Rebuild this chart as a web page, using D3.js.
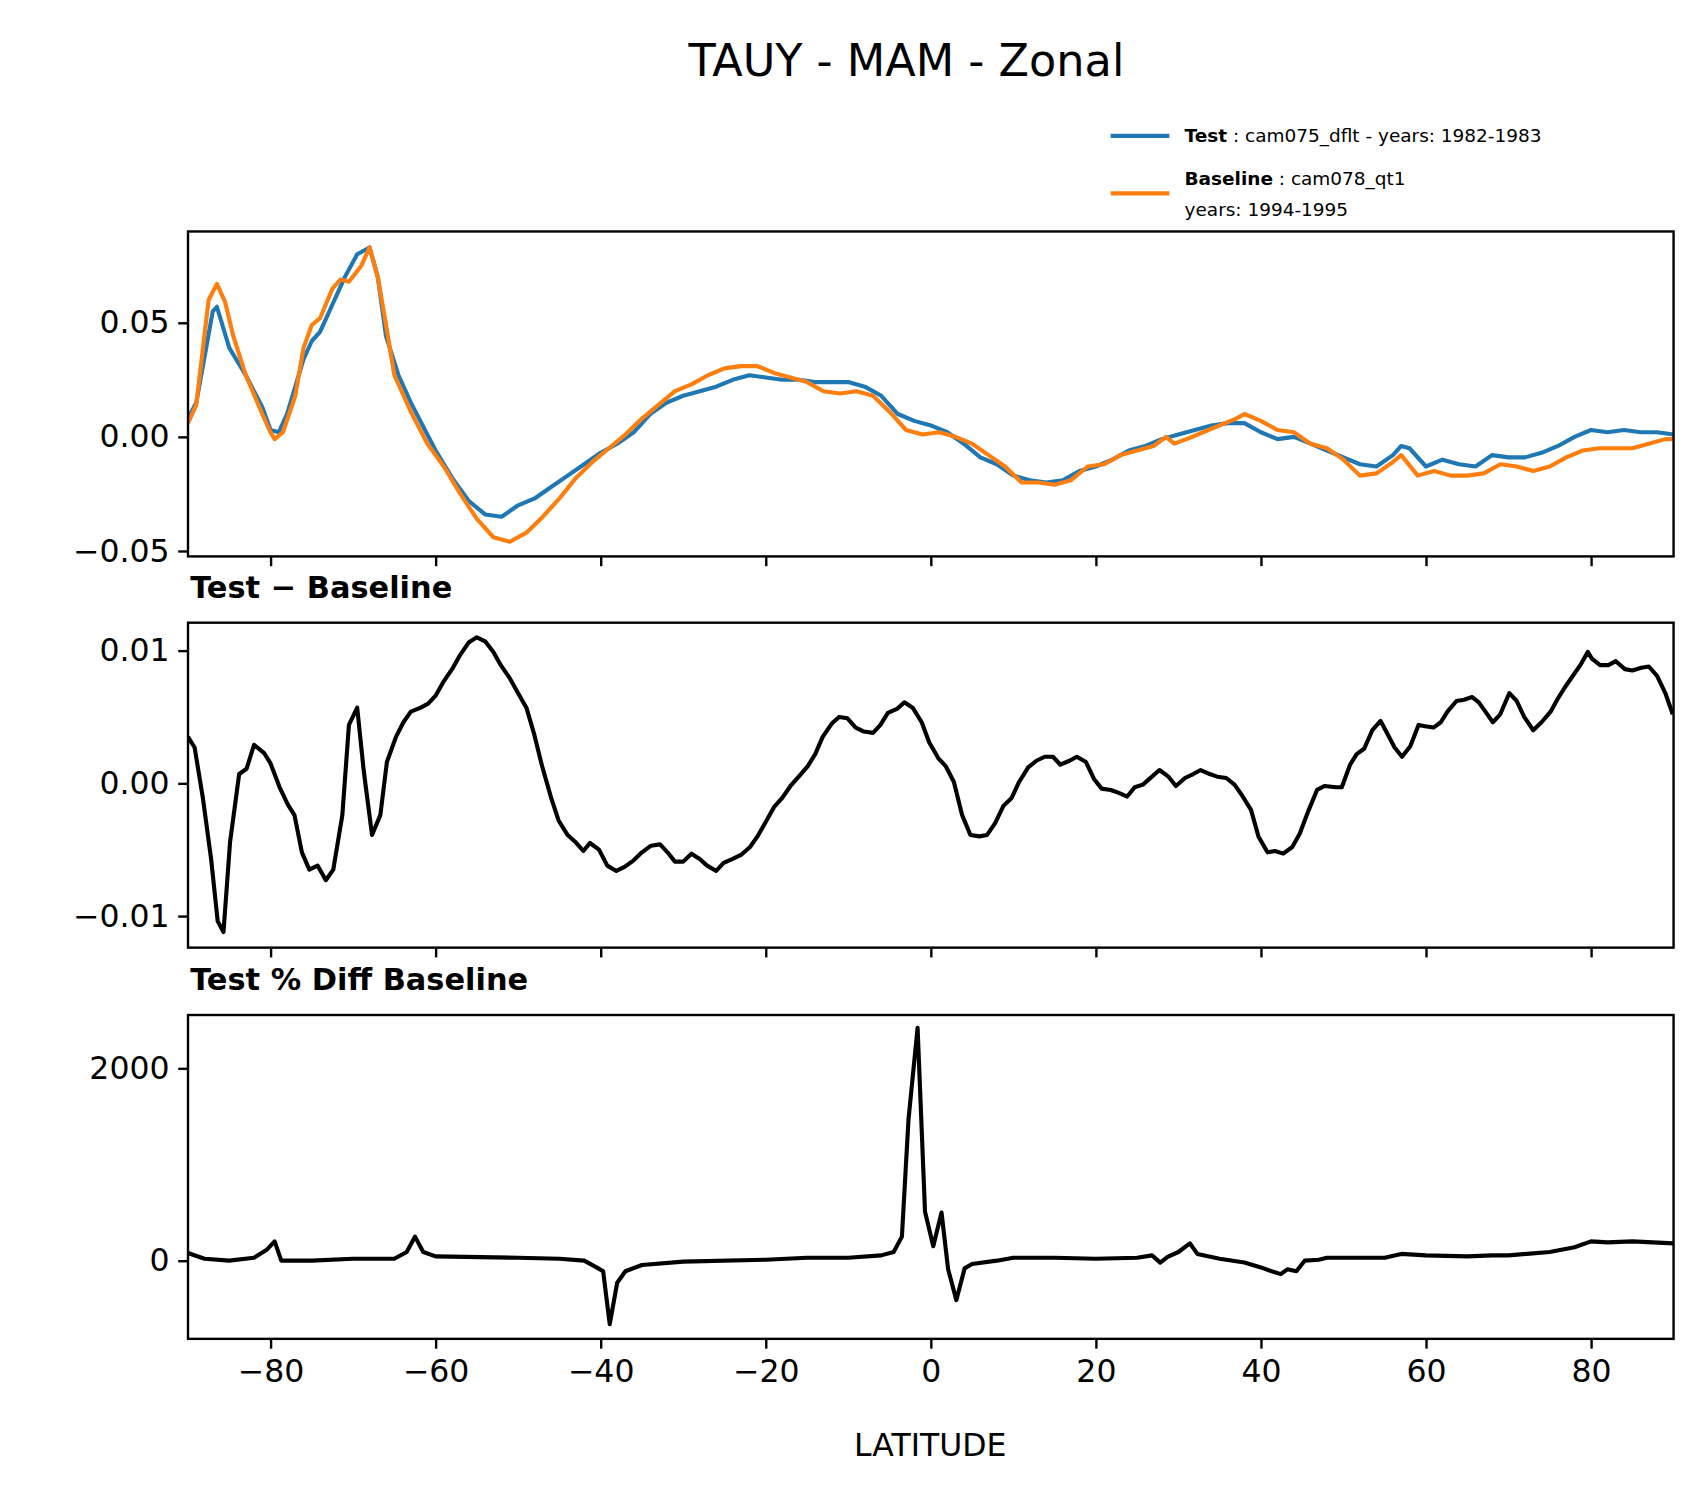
<!DOCTYPE html>
<html>
<head>
<meta charset="utf-8">
<script src="https://cdn.jsdelivr.net/npm/d3@7"></script>
<style>
  body { margin: 0; background: #fff; }
  text { font-family: "DejaVu Sans", sans-serif; }
</style>
</head>
<body>
<svg id="chart" width="1704" height="1496"></svg>
<script>
// zonal mean TAUY, test vs baseline
let testLat = [-90,-89,-87,-86.5,-85,-83,-81,-80,-79,-78,-76,-75,-74,-72.5,-71,-69.5,-68,-67,-66,-64.5,-63,-60,-58,-56,-54,-52,-50,-48,-46,-44,-42,-40,-38,-36,-34,-32,-30,-28,-26,-24,-22,-20,-18,-16,-14,-12,-10,-8,-6,-4,-2,0,2,4,6,8,10,12,14,16,18,20,22,24,26,28,30,32,34,36,38,40,42,44,46,48,50,52,54,56,57,58,60,62,64,66,68,70,72,74,76,78,80,82,84,86,88,90];
let testVal = [0.008,0.015,0.055,0.057,0.039,0.027,0.013,0.003,0.002,0.010,0.034,0.042,0.046,0.058,0.070,0.080,0.083,0.070,0.044,0.027,0.015,-0.006,-0.018,-0.028,-0.034,-0.035,-0.030,-0.027,-0.022,-0.017,-0.012,-0.007,-0.003,0.002,0.010,0.015,0.018,0.020,0.022,0.025,0.027,0.026,0.025,0.025,0.024,0.024,0.024,0.022,0.018,0.010,0.007,0.005,0.002,-0.003,-0.009,-0.012,-0.017,-0.019,-0.020,-0.019,-0.015,-0.013,-0.010,-0.006,-0.004,-0.001,0.001,0.003,0.005,0.006,0.006,0.002,-0.001,0.000,-0.003,-0.006,-0.009,-0.012,-0.013,-0.008,-0.004,-0.005,-0.013,-0.010,-0.012,-0.013,-0.008,-0.009,-0.009,-0.007,-0.004,0.000,0.003,0.002,0.003,0.002,0.002,0.001];

let baseLat = [-90,-89,-87.5,-86.5,-85.5,-84.5,-83,-81,-80,-79.5,-78.5,-77,-76,-75,-74,-72.5,-71.5,-70.5,-69,-68,-67,-66,-65,-63,-61,-59,-57,-55,-53,-51,-49,-47,-45,-43,-41,-39,-37,-35,-33,-31,-29,-27,-25,-23,-21,-19,-17,-15,-13,-11,-9,-7,-5,-3,-1,1,3,5,7,9,11,13,15,17,19,21,23,25,27,28.5,29.5,31,33,35,37,38,40,42,44,46,48,50,52,54,56,57,59,61,63,65,67,69,71,73,75,77,79,81,83,85,87,89,90];
let baseVal = [0.006,0.014,0.060,0.067,0.059,0.044,0.027,0.010,0.002,-0.001,0.002,0.018,0.039,0.049,0.052,0.065,0.069,0.068,0.075,0.083,0.070,0.049,0.027,0.011,-0.003,-0.013,-0.025,-0.036,-0.044,-0.046,-0.042,-0.035,-0.027,-0.018,-0.011,-0.005,0.001,0.008,0.014,0.020,0.023,0.027,0.030,0.031,0.031,0.028,0.026,0.024,0.020,0.019,0.020,0.018,0.011,0.003,0.001,0.002,0.000,-0.003,-0.008,-0.013,-0.020,-0.020,-0.021,-0.019,-0.013,-0.012,-0.008,-0.006,-0.004,0.000,-0.003,-0.001,0.002,0.005,0.008,0.010,0.007,0.003,0.002,-0.003,-0.005,-0.010,-0.017,-0.016,-0.011,-0.008,-0.017,-0.015,-0.017,-0.017,-0.016,-0.012,-0.013,-0.015,-0.013,-0.009,-0.006,-0.005,-0.005,-0.005,-0.003,-0.001,-0.001];

let diffLat = [-90,-89.2,-88.2,-87.2,-86.4,-85.7,-84.9,-83.8,-82.9,-82.0,-80.8,-80,-78.9,-77.9,-77.1,-76.2,-75.3,-74.3,-73.3,-72.4,-71.3,-70.5,-69.5,-68.7,-67.7,-66.7,-65.9,-64.8,-63.9,-63.0,-61.8,-60.9,-60,-59.1,-57.9,-57.0,-56.0,-55.0,-54.0,-53.0,-52.1,-51.0,-50.1,-49.0,-48.1,-47.1,-46.0,-45.1,-44.0,-43.1,-42.1,-41.3,-40.2,-39.2,-38.1,-37.1,-36.0,-35.0,-33.9,-32.8,-31.9,-31.0,-30.0,-29.0,-28.0,-27.1,-26.0,-25.1,-24.0,-23.0,-21.9,-21.0,-19.9,-19.0,-18.0,-17.0,-16.0,-14.9,-14.0,-13.1,-12.0,-11.1,-10.1,-9.1,-8.1,-7.0,-6.1,-5.2,-4.1,-3.2,-2.2,-1.1,-0.2,0.9,1.8,2.8,3.8,4.8,5.9,6.8,7.8,8.8,9.8,10.7,11.8,12.8,13.8,14.8,15.7,16.8,17.7,18.8,19.8,20.7,21.8,22.7,23.8,24.7,25.7,26.8,27.7,28.8,29.7,30.8,31.8,32.7,33.8,34.7,35.8,36.8,37.7,38.8,39.7,40.8,41.7,42.7,43.8,44.7,45.8,46.8,47.7,49.1,49.8,50.8,51.6,52.5,53.5,54.5,55.1,56.2,57.1,58.1,59.1,59.9,60.9,61.8,62.6,63.7,64.6,65.6,66.4,67.2,68.1,69.0,70.1,71.0,71.9,73.0,74.0,75.1,75.9,76.8,77.8,78.7,79.6,80.1,81.1,82.1,83.0,84.1,85.0,86.1,87.0,88.0,89.0,89.9];
let diffVal = [0.0035,0.0027,-0.0011,-0.0057,-0.0104,-0.0112,-0.0044,0.0007,0.0011,0.0029,0.0023,0.0015,-0.0003,-0.0016,-0.0024,-0.0052,-0.0065,-0.0062,-0.0073,-0.0065,-0.0024,0.0044,0.0057,0.0009,-0.0039,-0.0024,0.0016,0.0035,0.0046,0.0054,0.0057,0.0060,0.0066,0.0076,0.0087,0.0097,0.0106,0.0110,0.0107,0.0099,0.0089,0.0079,0.0069,0.0057,0.0038,0.0013,-0.0011,-0.0028,-0.0039,-0.0044,-0.0051,-0.0045,-0.0050,-0.0062,-0.0066,-0.0063,-0.0058,-0.0052,-0.0047,-0.0046,-0.0052,-0.0059,-0.0059,-0.0053,-0.0057,-0.0062,-0.0066,-0.0060,-0.0057,-0.0054,-0.0048,-0.0040,-0.0028,-0.0018,-0.0011,-0.0002,0.0005,0.0013,0.0022,0.0035,0.0045,0.0050,0.0049,0.0042,0.0039,0.0038,0.0044,0.0053,0.0056,0.0061,0.0057,0.0046,0.0031,0.0019,0.0013,0.0001,-0.0024,-0.0039,-0.0040,-0.0039,-0.0030,-0.0017,-0.0011,0.0001,0.0012,0.0017,0.0020,0.0020,0.0014,0.0017,0.0020,0.0016,0.0003,-0.0004,-0.0005,-0.0007,-0.0010,-0.0003,-0.0001,0.0005,0.0010,0.0005,-0.0002,0.0004,0.0007,0.0010,0.0007,0.0005,0.0004,-0.0001,-0.0009,-0.0020,-0.0040,-0.0052,-0.0051,-0.0053,-0.0048,-0.0038,-0.0020,-0.0005,-0.0002,-0.0003,-0.0003,0.0014,0.0022,0.0026,0.0040,0.0047,0.0040,0.0027,0.0020,0.0028,0.0044,0.0043,0.0042,0.0046,0.0054,0.0062,0.0063,0.0065,0.0061,0.0054,0.0046,0.0052,0.0068,0.0062,0.0050,0.0040,0.0046,0.0054,0.0063,0.0072,0.0081,0.0089,0.0099,0.0094,0.0089,0.0089,0.0092,0.0086,0.0085,0.0087,0.0088,0.0081,0.0068,0.0052,0.0036,0.0021,0.0015];

let pctLat = [-90,-88,-85,-82,-80.5,-79.5,-78.7,-75,-70,-65,-63.5,-62.5,-61.5,-60,-50,-45,-42,-40.5,-39.7,-38.9,-38,-37,-35,-30,-20,-15,-10,-6,-4.5,-3.5,-2.7,-1.6,-0.7,0.3,1.3,2.1,3.1,4.1,5,8,10,15,20,25,26.8,27.8,28.7,30,31.4,32.3,35,38,40,41.3,42.4,43.2,44.3,45.3,47,48,55,57,60,65,68,70,75,78,80,82,85,90];
let pctVal = [80,20,0,30,110,200,0,0,20,20,90,250,90,45,30,20,0,-70,-110,-660,-230,-110,-45,-10,10,30,30,55,90,250,1470,2420,510,150,500,-90,-410,-80,-35,0,30,30,20,30,55,-20,40,90,180,70,20,-20,-70,-110,-140,-90,-110,0,10,30,30,70,55,45,55,55,90,140,200,190,200,180];

let xTicks = [-80,-60,-40,-20,0,20,40,60,80];
let topTicks = [-0.05,0,0.05];
let diffTicks = [-0.01,0,0.01];
let pctTicks = [0,2000];

// layout was measured on a 1568-wide copy; scale up to the page
let svg = d3.select("#chart").append("g").attr("transform", `scale(${1704 / 1568})`);
let left = 173, right = 1540;
let x = d3.scaleLinear().domain([-90, 90]).range([left, right]);

let panels = [
  { top: 213, bottom: 512, domain: [-0.0524, 0.09], ticks: topTicks, fmt: d3.format(".2f") },
  { top: 573, bottom: 872, domain: [-0.01238, 0.0121], ticks: diffTicks, fmt: d3.format(".2f") },
  { top: 934, bottom: 1232, domain: [-813, 2554], ticks: pctTicks, fmt: d3.format("d") }
];

panels.forEach(p => {
  p.y = d3.scaleLinear().domain(p.domain).range([p.bottom, p.top]);
});

let minus = s => s.replace("-", "\u2212");

let defs = svg.append("defs");
panels.forEach((p, i) => {
  defs.append("clipPath").attr("id", "clip" + i)
    .append("rect").attr("x", left).attr("y", p.top)
    .attr("width", right - left).attr("height", p.bottom - p.top);
});

function drawLine(i, lats, vals, color) {
  let p = panels[i];
  let pts = lats.map((d, k) => [d, vals[k]]);
  svg.append("path")
    .datum(pts)
    .attr("fill", "none")
    .attr("stroke", color)
    .attr("stroke-width", 3.8)
    .attr("stroke-linejoin", "round")
    .attr("clip-path", "url(#clip" + i + ")")
    .attr("d", d3.line().x(d => x(d[0])).y(d => p.y(d[1])));
}

drawLine(0, testLat, testVal, "#1f77b4");
drawLine(0, baseLat, baseVal, "#ff7f0e");
drawLine(1, diffLat, diffVal, "#000");
drawLine(2, pctLat, pctVal, "#000");

// axes and frames
panels.forEach((p, i) => {
  let yAxis = svg.append("g")
    .attr("transform", `translate(${left},0)`)
    .call(d3.axisLeft(p.y).tickValues(p.ticks).tickSize(9).tickPadding(8)
      .tickFormat(d => minus(p.fmt(d))));
  yAxis.select(".domain").remove();
  yAxis.selectAll("line").attr("stroke-width", 2.2);
  yAxis.selectAll("text").style("font-size", "29px");

  let xAxis = svg.append("g")
    .attr("transform", `translate(0,${p.bottom})`)
    .call(d3.axisBottom(x).tickValues(xTicks).tickSize(9).tickPadding(10)
      .tickFormat(i === 2 ? (d => minus(String(d))) : ""));
  xAxis.select(".domain").remove();
  xAxis.selectAll("line").attr("stroke-width", 2.2);
  xAxis.selectAll("text").style("font-size", "29px");

  svg.append("rect")
    .attr("x", left).attr("y", p.top)
    .attr("width", right - left).attr("height", p.bottom - p.top)
    .attr("fill", "none").attr("stroke", "#000").attr("stroke-width", 2.2);
});

svg.append("text").attr("x", 834).attr("y", 70).attr("text-anchor", "middle")
  .style("font-size", "41px").text("TAUY - MAM - Zonal");

svg.append("text").attr("x", 175).attr("y", 550)
  .style("font-size", "28px").style("font-weight", "bold").text("Test \u2212 Baseline");
svg.append("text").attr("x", 175).attr("y", 911)
  .style("font-size", "28px").style("font-weight", "bold").text("Test % Diff Baseline");

svg.append("text").attr("x", 856).attr("y", 1340).attr("text-anchor", "middle")
  .style("font-size", "29px").text("LATITUDE");

// legend
let legend = svg.append("g");
legend.append("line").attr("x1", 1022).attr("x2", 1076).attr("y1", 125).attr("y2", 125)
  .attr("stroke", "#1f77b4").attr("stroke-width", 4);
legend.append("line").attr("x1", 1022).attr("x2", 1076).attr("y1", 178).attr("y2", 178)
  .attr("stroke", "#ff7f0e").attr("stroke-width", 4);
let t1 = legend.append("text").attr("x", 1090).attr("y", 131).style("font-size", "17px");
t1.append("tspan").style("font-weight", "bold").text("Test");
t1.append("tspan").text(" : cam075_dflt - years: 1982-1983");
let t2 = legend.append("text").attr("x", 1090).attr("y", 170).style("font-size", "17px");
t2.append("tspan").style("font-weight", "bold").text("Baseline");
t2.append("tspan").text(" : cam078_qt1");
legend.append("text").attr("x", 1090).attr("y", 199).style("font-size", "17px").text("years: 1994-1995");
</script>
</body>
</html>
